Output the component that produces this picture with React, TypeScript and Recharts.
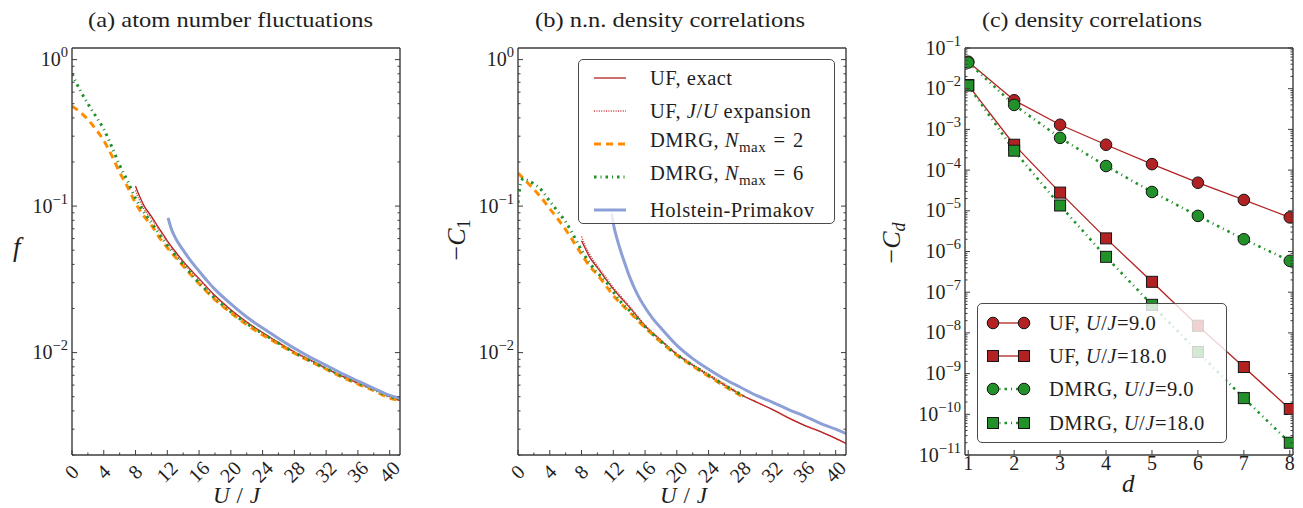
import React from 'react';
import { LineChart, Line, XAxis, YAxis, Legend } from 'recharts';

// ---------- panel (a): atom number fluctuations f vs U/J ----------
const uDmrgA = [0, 1, 2, 3, 4, 5, 6, 7, 8, 9, 10, 11, 12, 14, 16, 18, 20, 22, 24, 26, 28, 30, 32, 34, 36, 38, 40, 41.3];
const fDmrgN2 = [0.48, 0.44, 0.39, 0.335, 0.28, 0.222, 0.17, 0.135, 0.105, 0.086, 0.074, 0.061, 0.052, 0.039, 0.0295, 0.023, 0.0187, 0.0155, 0.0132, 0.0114, 0.0099, 0.0087, 0.0077, 0.0068, 0.0061, 0.0055, 0.0049, 0.0047];
const fDmrgN6 = [0.8, 0.62, 0.5, 0.41, 0.335, 0.255, 0.19, 0.148, 0.113, 0.092, 0.077, 0.064, 0.054, 0.04, 0.03, 0.0235, 0.019, 0.0158, 0.0135, 0.0116, 0.01, 0.0088, 0.0078, 0.0069, 0.0062, 0.0056, 0.005, 0.0048];
const uExactA = [8, 8.5, 9, 10, 11, 12, 13, 14, 16, 18, 20, 22, 24, 26, 28, 30, 32, 34, 36, 38, 40, 41.3];
const fExact = [0.137, 0.117, 0.102, 0.085, 0.07, 0.058, 0.049, 0.042, 0.032, 0.0245, 0.0196, 0.0162, 0.0137, 0.0117, 0.0101, 0.0089, 0.0078, 0.0069, 0.0062, 0.0056, 0.005, 0.0047];
const fExpansion = [0.128, 0.11, 0.097, 0.082, 0.068, 0.057, 0.048, 0.041, 0.0315, 0.0243, 0.0195, 0.0161, 0.0136, 0.0116, 0.0101, 0.0088, 0.0078, 0.0069, 0.0062, 0.0056, 0.005, 0.0047];
const uHpA = [12.1, 12.5, 13, 14, 15, 16, 17, 18, 20, 22, 24, 26, 28, 30, 32, 34, 36, 38, 40, 41.3];
const fHp = [0.083, 0.07, 0.061, 0.05, 0.042, 0.036, 0.031, 0.027, 0.0215, 0.0175, 0.0147, 0.0125, 0.0107, 0.0093, 0.0082, 0.0072, 0.0064, 0.0057, 0.0051, 0.0049];

// ---------- panel (b): nearest-neighbour density correlations -C1 ----------
const uDmrgN2B = [0, 1, 2, 3, 4, 5, 6, 7, 8, 9, 10, 11, 12, 13, 14, 16, 18, 20, 22, 24, 26, 28, 28.5];
const c1DmrgN2 = [0.168, 0.148, 0.13, 0.113, 0.096, 0.082, 0.069, 0.057, 0.047, 0.039, 0.034, 0.029, 0.0245, 0.0215, 0.019, 0.0148, 0.0118, 0.0096, 0.0081, 0.0069, 0.0059, 0.0051, 0.0049];
const uDmrgN6B = [0, 0.3, 0.7, 1, 2, 3, 4, 5, 6, 7, 8, 9, 10, 11, 12, 13, 14, 16, 18, 20, 22, 24, 26, 28, 28.5];
const c1DmrgN6 = [0.105, 0.14, 0.155, 0.152, 0.142, 0.128, 0.108, 0.092, 0.078, 0.063, 0.05, 0.041, 0.035, 0.031, 0.026, 0.022, 0.0195, 0.015, 0.0119, 0.0097, 0.0082, 0.007, 0.006, 0.0052, 0.005];
const uExactB = [8, 8.5, 9, 10, 11, 12, 13, 14, 16, 18, 20, 22, 24, 26, 28, 30, 32, 34, 36, 38, 40, 41.3];
const c1Exact = [0.058, 0.051, 0.045, 0.038, 0.032, 0.0272, 0.0235, 0.0205, 0.0152, 0.0121, 0.0097, 0.0082, 0.007, 0.006, 0.0052, 0.0046, 0.0041, 0.0036, 0.0032, 0.0029, 0.0026, 0.0024];
const c1Expansion = [0.062, 0.053, 0.047, 0.039, 0.033, 0.0278, 0.024, 0.0208, 0.0154, 0.0122, 0.0098, 0.0083, 0.0071, 0.0061, 0.0052, 0.0046, 0.0041, 0.0036, 0.0032, 0.0029, 0.0026, 0.0024];
const uHpB = [11.8, 12, 12.5, 13, 13.5, 14, 15, 16, 17, 18, 20, 22, 24, 26, 28, 30, 32, 34, 36, 38, 40, 41.3];
const c1Hp = [0.089, 0.076, 0.059, 0.048, 0.04, 0.0335, 0.0252, 0.0203, 0.017, 0.0147, 0.0112, 0.0091, 0.0077, 0.0066, 0.0058, 0.0051, 0.0046, 0.0041, 0.0037, 0.0033, 0.003, 0.0028];

// ---------- panel (c): density correlations -C_d vs distance d ----------
const distances = [1, 2, 3, 4, 5, 6, 7, 8];
const cdUfU9 = [4.6e-2, 5.2e-3, 1.3e-3, 4.2e-4, 1.4e-4, 4.9e-5, 1.85e-5, 6.9e-6];
const cdUfU18 = [1.23e-2, 4.2e-4, 2.8e-5, 2.1e-6, 1.8e-7, 1.5e-8, 1.45e-9, 1.35e-10];
const cdDmrgU9 = [4.4e-2, 4.0e-3, 6.2e-4, 1.26e-4, 2.9e-5, 7.5e-6, 2.0e-6, 5.9e-7];
const cdDmrgU18 = [1.2e-2, 3.0e-4, 1.35e-5, 7.4e-7, 4.9e-8, 3.4e-9, 2.5e-10, 2.0e-11];

// axis ticks
const uTicks = [0, 2, 4, 6, 8, 10, 12, 14, 16, 18, 20, 22, 24, 26, 28, 30, 32, 34, 36, 38, 40];
const uMajor = [0, 4, 8, 12, 16, 20, 24, 28, 32, 36, 40];
const dTicks = [1, 2, 3, 4, 5, 6, 7, 8];
const decadesAB = [-3, -2, -1, 0];
const decadesC = [-11, -10, -9, -8, -7, -6, -5, -4, -3, -2, -1];

const U_DOMAIN: [number, number] = [0, 41.3];
const Y_DOMAIN_AB: [number, number] = [0.002, 1.2];
const D_DOMAIN: [number, number] = [0.93, 8.07];
const Y_DOMAIN_C: [number, number] = [1e-11, 1e-1];

const SERIF = "'Liberation Serif', 'Times New Roman', 'DejaVu Serif', serif";
const INK = '#1e1e1e';
const FRAME = '#3c3c3c';
const RED = '#b22222';
const RED_DOT = '#d23a3a';
const ORANGE = '#ff8c00';
const GREEN = '#22912a';
const BLUE = '#8c9fd6';
const DASHDOT = '2.5 4 1 4';

const pairs = (xs: number[], ys: number[]) => xs.map((x, i) => ({ x, y: ys[i] }));

const logTicks = (decades: number[], domain: [number, number]) => {
  const out: number[] = [];
  decades.forEach((e) => {
    for (let k = 1; k < 10; k++) out.push(k * Math.pow(10, e));
  });
  return out.filter((v) => v >= domain[0] * 0.9999 && v <= domain[1] * 1.0001);
};
const isDecade = (v: number) => Math.abs(Math.log10(v) - Math.round(Math.log10(v))) < 1e-6;

type Series = {
  key: string;
  label: React.ReactNode;
  xs: number[];
  ys: number[];
  color: string;
  width: number;
  dash?: string;
};

const I = ({ children }: { children: React.ReactNode }) => <i>{children}</i>;
const EQ = '\u2004=\u2004';

const labelsAB = {
  exact: 'UF, exact',
  expansion: (
    <>
      UF, <I>J</I>/<I>U</I> expansion
    </>
  ),
  n2: (
    <>
      DMRG, <I>N</I>
      <sub style={{ fontSize: 15 }}>max</sub>
      {EQ}2
    </>
  ),
  n6: (
    <>
      DMRG, <I>N</I>
      <sub style={{ fontSize: 15 }}>max</sub>
      {EQ}6
    </>
  ),
  hp: 'Holstein-Primakov',
};

const seriesA: Series[] = [
  { key: 'exact', label: labelsAB.exact, xs: uExactA, ys: fExact, color: RED, width: 1.3 },
  { key: 'exp', label: labelsAB.expansion, xs: uExactA, ys: fExpansion, color: RED_DOT, width: 1.6, dash: '1 1.4' },
  { key: 'n2', label: labelsAB.n2, xs: uDmrgA, ys: fDmrgN2, color: ORANGE, width: 3, dash: '7 5' },
  { key: 'n6', label: labelsAB.n6, xs: uDmrgA, ys: fDmrgN6, color: GREEN, width: 3, dash: DASHDOT },
  { key: 'hp', label: labelsAB.hp, xs: uHpA, ys: fHp, color: BLUE, width: 3 },
];

const seriesB: Series[] = [
  { key: 'exact', label: labelsAB.exact, xs: uExactB, ys: c1Exact, color: RED, width: 1.3 },
  { key: 'exp', label: labelsAB.expansion, xs: uExactB, ys: c1Expansion, color: RED_DOT, width: 1.6, dash: '1 1.4' },
  { key: 'n2', label: labelsAB.n2, xs: uDmrgN2B, ys: c1DmrgN2, color: ORANGE, width: 3, dash: '7 5' },
  { key: 'n6', label: labelsAB.n6, xs: uDmrgN6B, ys: c1DmrgN6, color: GREEN, width: 3, dash: DASHDOT },
  { key: 'hp', label: labelsAB.hp, xs: uHpB, ys: c1Hp, color: BLUE, width: 3 },
];

type MarkerSeries = Series & { marker: 'circle' | 'square' };

const ujLabel = (v: string) => (
  <>
    <I>U</I>/<I>J</I>={v}
  </>
);

const seriesC: MarkerSeries[] = [
  { key: 'uf9', label: <>UF, {ujLabel('9.0')}</>, xs: distances, ys: cdUfU9, color: RED, width: 1.3, marker: 'circle' },
  { key: 'uf18', label: <>UF, {ujLabel('18.0')}</>, xs: distances, ys: cdUfU18, color: RED, width: 1.3, marker: 'square' },
  { key: 'dm9', label: <>DMRG, {ujLabel('9.0')}</>, xs: distances, ys: cdDmrgU9, color: GREEN, width: 2.6, dash: DASHDOT, marker: 'circle' },
  { key: 'dm18', label: <>DMRG, {ujLabel('18.0')}</>, xs: distances, ys: cdDmrgU18, color: GREEN, width: 2.6, dash: DASHDOT, marker: 'square' },
];

// ---------- tick renderers (inward ticks, matplotlib style) ----------
const MAJOR = 5;
const MINOR = 2.5;

const expLabel = (e: number) => (e < 0 ? `\u2212${-e}` : `${e}`);

function LeftLogTick(props: any) {
  const { x, y, payload } = props;
  const v = payload.value as number;
  const major = isDecade(v);
  const e = Math.round(Math.log10(v));
  return (
    <g>
      <line x1={x} x2={x + (major ? MAJOR : MINOR)} y1={y} y2={y} stroke={FRAME} strokeWidth={1} />
      {major && (
        <text x={x - 4} y={y + 6.5} textAnchor="end" fontFamily={SERIF} fontSize={20} fill={INK}>
          10
          <tspan dy={-9} fontSize={14.5}>
            {expLabel(e)}
          </tspan>
        </text>
      )}
    </g>
  );
}

function RightLogTick(props: any) {
  const { x, y, payload } = props;
  const major = isDecade(payload.value);
  return <line x1={x} x2={x - (major ? MAJOR : MINOR)} y1={y} y2={y} stroke={FRAME} strokeWidth={1} />;
}

function BottomUTick(props: any) {
  const { x, y, payload } = props;
  const v = payload.value as number;
  const major = uMajor.includes(v);
  return (
    <g>
      <line x1={x} x2={x} y1={y} y2={y - (major ? MAJOR : MINOR)} stroke={FRAME} strokeWidth={1} />
      {major && (
        <g transform={`translate(${x},${y + 17}) rotate(-45)`}>
          <text x={0} y={6.5} textAnchor="middle" fontFamily={SERIF} fontSize={20} fill={INK}>
            {v}
          </text>
        </g>
      )}
    </g>
  );
}

function TopUTick(props: any) {
  const { x, y, payload } = props;
  const major = uMajor.includes(payload.value);
  return <line x1={x} x2={x} y1={y} y2={y + (major ? MAJOR : MINOR)} stroke={FRAME} strokeWidth={1} />;
}

function BottomDTick(props: any) {
  const { x, y, payload } = props;
  return (
    <g>
      <line x1={x} x2={x} y1={y} y2={y - MAJOR} stroke={FRAME} strokeWidth={1} />
      <text x={x} y={y + 15} textAnchor="middle" fontFamily={SERIF} fontSize={20} fill={INK}>
        {payload.value}
      </text>
    </g>
  );
}

function TopDTick(props: any) {
  const { x, y } = props;
  return <line x1={x} x2={x} y1={y} y2={y + MAJOR} stroke={FRAME} strokeWidth={1} />;
}

const frameLine = { stroke: FRAME, strokeWidth: 1.4 };

// shared axis props: axes are 1px wide so recharts still draws them
const hAxis = { type: 'number' as const, allowDataOverflow: true, interval: 0 as const, height: 1, tickSize: 0, tickMargin: 0, tickLine: false, axisLine: frameLine };
const vAxis = { type: 'number' as const, scale: 'log' as const, allowDataOverflow: true, interval: 0 as const, width: 1, tickSize: 0, tickMargin: 0, tickLine: false, axisLine: frameLine };

// ---------- legends ----------
const legendBox: React.CSSProperties = {
  boxSizing: 'border-box',
  background: 'rgba(255,255,255,0.8)',
  border: '1.3px solid #4a4a4a',
  borderRadius: 5,
  fontFamily: SERIF,
  fontSize: 20.5,
  letterSpacing: 0.5,
  color: INK,
};

function LegendAB({ series }: { series: Series[] }) {
  return (
    <div style={{ ...legendBox, width: 257, height: 165, paddingTop: 1 }}>
      {series.map((s) => (
        <div key={s.key} style={{ display: 'flex', alignItems: 'center', height: 33, whiteSpace: 'nowrap' }}>
          <svg width={34} height={10} style={{ marginLeft: 14, flex: 'none' }}>
            <line x1={1} x2={33} y1={5} y2={5} stroke={s.color} strokeWidth={s.width} strokeDasharray={s.dash} />
          </svg>
          <span style={{ marginLeft: 23, lineHeight: '20px' }}>{s.label}</span>
        </div>
      ))}
    </div>
  );
}

function Marker({ cx, cy, shape, color }: { cx: number; cy: number; shape: 'circle' | 'square'; color: string }) {
  if (shape === 'square') {
    return <rect x={cx - 5.5} y={cy - 5.5} width={11} height={11} fill={color} stroke="#151515" strokeWidth={1} />;
  }
  return <circle cx={cx} cy={cy} r={5.8} fill={color} stroke="#151515" strokeWidth={1} />;
}

function LegendC() {
  return (
    <div style={{ ...legendBox, width: 250, height: 140, paddingTop: 2 }}>
      {seriesC.map((s) => (
        <div key={s.key} style={{ display: 'flex', alignItems: 'center', height: 33.3, whiteSpace: 'nowrap' }}>
          <svg width={46} height={14} style={{ marginLeft: 8, flex: 'none' }}>
            <line x1={7} x2={38} y1={7} y2={7} stroke={s.color} strokeWidth={s.width} strokeDasharray={s.dash} />
            <Marker cx={7} cy={7} shape={s.marker} color={s.color} />
            <Marker cx={38} cy={7} shape={s.marker} color={s.color} />
          </svg>
          <span style={{ marginLeft: 17, lineHeight: '20px' }}>{s.label}</span>
        </div>
      ))}
    </div>
  );
}

// ---------- panels ----------
function UJPanel({
  width,
  margin,
  series,
  legend,
}: {
  width: number;
  margin: { top: number; right: number; bottom: number; left: number };
  series: Series[];
  legend?: React.ReactElement;
}) {
  const yTicks = logTicks(decadesAB, Y_DOMAIN_AB);
  return (
    <LineChart width={width} height={508} margin={margin}>
      <XAxis {...hAxis} dataKey="x" domain={U_DOMAIN} ticks={uTicks} tick={BottomUTick} />
      <XAxis {...hAxis} xAxisId="top" orientation="top" domain={U_DOMAIN} ticks={uTicks} tick={TopUTick} />
      <YAxis {...vAxis} domain={Y_DOMAIN_AB} ticks={yTicks} tick={LeftLogTick} />
      <YAxis {...vAxis} yAxisId="right" orientation="right" domain={Y_DOMAIN_AB} ticks={yTicks} tick={RightLogTick} />
      {series.map((s) => (
        <Line
          key={s.key}
          data={pairs(s.xs, s.ys)}
          dataKey="y"
          type="monotone"
          stroke={s.color}
          strokeWidth={s.width}
          strokeDasharray={s.dash}
          dot={false}
          activeDot={false}
          isAnimationActive={false}
        />
      ))}
      {legend && (
        <Legend
          layout="horizontal"
          verticalAlign="middle"
          align="center"
          wrapperStyle={{ left: 148, top: 59, width: 257, height: 165 }}
          content={() => legend}
        />
      )}
    </LineChart>
  );
}

function DistancePanel() {
  const yTicks = logTicks(decadesC, Y_DOMAIN_C);
  return (
    <LineChart width={443} height={508} margin={{ top: 47, right: 9, bottom: 52, left: 104 }}>
      <XAxis {...hAxis} dataKey="x" domain={D_DOMAIN} ticks={dTicks} tick={BottomDTick} />
      <XAxis {...hAxis} xAxisId="top" orientation="top" domain={D_DOMAIN} ticks={dTicks} tick={TopDTick} />
      <YAxis {...vAxis} domain={Y_DOMAIN_C} ticks={yTicks} tick={LeftLogTick} />
      <YAxis {...vAxis} yAxisId="right" orientation="right" domain={Y_DOMAIN_C} ticks={yTicks} tick={RightLogTick} />
      {seriesC.map((s) => (
        <Line
          key={s.key}
          data={pairs(s.xs, s.ys)}
          dataKey="y"
          type="linear"
          stroke={s.color}
          strokeWidth={s.width}
          strokeDasharray={s.dash}
          dot={(p: any) => <Marker key={`${s.key}-${p.index}`} cx={p.cx} cy={p.cy} shape={s.marker} color={s.color} />}
          activeDot={false}
          isAnimationActive={false}
        />
      ))}
      <Legend
        layout="horizontal"
        verticalAlign="middle"
        align="center"
        wrapperStyle={{ left: 117, top: 303, width: 250, height: 140 }}
        content={() => <LegendC />}
      />
    </LineChart>
  );
}

function TextLayer() {
  return (
    <svg width={1303} height={508} style={{ position: 'absolute', left: 0, top: 0 }} fontFamily={SERIF} fill={INK}>
      <text x={88} y={27} fontSize={21} textLength={285} lengthAdjust="spacingAndGlyphs">
        (a) atom number fluctuations
      </text>
      <text x={535} y={27} fontSize={21} textLength={270} lengthAdjust="spacingAndGlyphs">
        (b) n.n. density correlations
      </text>
      <text x={982} y={27} fontSize={21} textLength={220} lengthAdjust="spacingAndGlyphs">
        (c) density correlations
      </text>
      <text x={213} y={503} fontSize={23} textLength={47} lengthAdjust="spacing">
        <tspan fontStyle="italic">U</tspan>/<tspan fontStyle="italic">J</tspan>
      </text>
      <text x={660} y={503} fontSize={23} textLength={47} lengthAdjust="spacing">
        <tspan fontStyle="italic">U</tspan>/<tspan fontStyle="italic">J</tspan>
      </text>
      <text x={1122} y={492} fontSize={25} fontStyle="italic">
        d
      </text>
      <text x={13} y={256} fontSize={27} fontStyle="italic">
        f
      </text>
      <text transform="translate(465,240) rotate(-90)" textAnchor="middle" fontSize={26}>
        {'\u2212'}
        <tspan fontStyle="italic">C</tspan>
        <tspan fontSize={18} dy={5}>
          1
        </tspan>
      </text>
      <text transform="translate(900,243) rotate(-90)" textAnchor="middle" fontSize={26}>
        {'\u2212'}
        <tspan fontStyle="italic">C</tspan>
        <tspan fontSize={18} dy={5} fontStyle="italic">
          d
        </tspan>
      </text>
    </svg>
  );
}

export default function App() {
  return (
    <div style={{ position: 'absolute', left: 0, top: 0, width: 1303, height: 508, background: '#fff', overflow: 'hidden' }}>
      <TextLayer />
      <div style={{ position: 'absolute', left: 0, top: 0 }}>
        <UJPanel width={430} margin={{ top: 47, right: 29, bottom: 52, left: 71 }} series={seriesA} />
      </div>
      <div style={{ position: 'absolute', left: 430, top: 0 }}>
        <UJPanel
          width={430}
          margin={{ top: 47, right: 13, bottom: 52, left: 87 }}
          series={seriesB}
          legend={<LegendAB series={seriesB} />}
        />
      </div>
      <div style={{ position: 'absolute', left: 860, top: 0 }}>
        <DistancePanel />
      </div>
    </div>
  );
}
